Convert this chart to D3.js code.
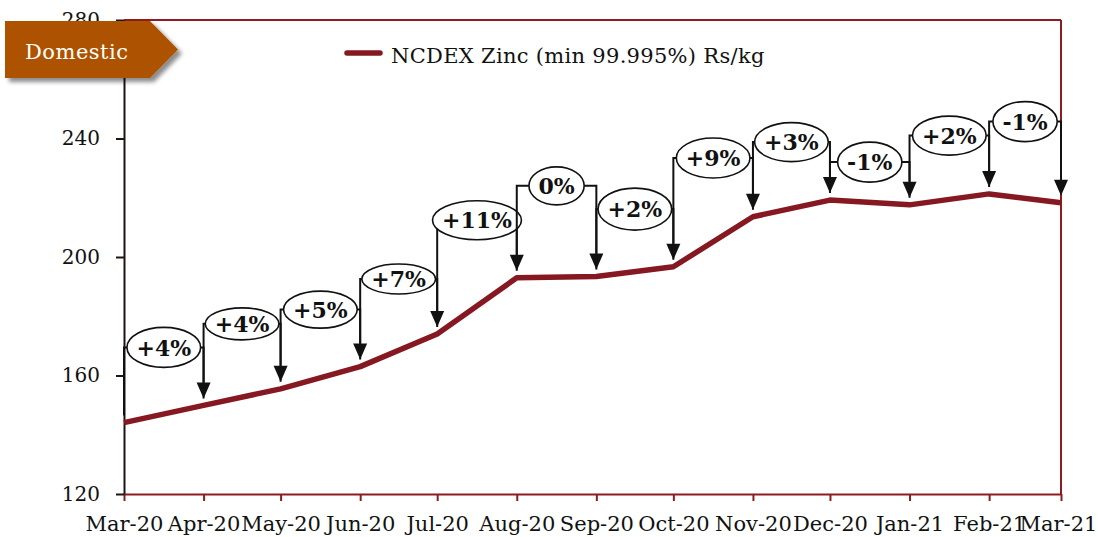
<!DOCTYPE html>
<html>
<head>
<meta charset="utf-8">
<script src="https://cdn.jsdelivr.net/npm/d3@7"></script>
<style>
  html, body { margin: 0; padding: 0; background: #ffffff; }
  svg { display: block; font-family: "DejaVu Serif", "Liberation Serif", serif; }
</style>
</head>
<body>
<svg id="chart" width="1098" height="537"></svg>
<script>
// ---- data ----
const months = ["2020-03-01", "2020-04-01", "2020-05-01", "2020-06-01", "2020-07-01",
                "2020-08-01", "2020-09-01", "2020-10-01", "2020-11-01", "2020-12-01",
                "2021-01-01", "2021-02-01", "2021-03-01"];
const monthLabels = ["Mar-20", "Apr-20", "May-20", "Jun-20", "Jul-20", "Aug-20", "Sep-20",
                     "Oct-20", "Nov-20", "Dec-20", "Jan-21", "Feb-21", "Mar-21"];
const zincPrice = [144.1, 149.9, 155.5, 163.0, 174.0, 193.0, 193.4, 196.7, 213.6, 219.2, 217.6, 221.3, 218.3];
const changeLabels = ["+4%", "+4%", "+5%", "+7%", "+11%", "0%", "+2%", "+9%", "+3%", "-1%", "+2%", "-1%"];
const yTicks = [120, 160, 200, 240, 280];
const seriesName = "NCDEX Zinc (min 99.995%) Rs/kg";
const badgeText = "Domestic";

// ---- layout ----
const plot = { left: 124, right: 1061, top: 20, bottom: 494 };
const calloutLift = [58, 65, 57, 55, 57.5, 90.7, 57.7, 58.7, 58, 38, 58.3, 72.3]; // px above the higher end point
const calloutRy   = [20, 16, 18.5, 15, 19.5, 19, 21, 20, 19.5, 20, 19.5, 20];
const lineColor = "#861821";
const frameColor = "#8e1b1f";

const svg = d3.select("#chart");
const parse = d3.timeParse("%Y-%m-%d");
const dates = months.map(parse);

const x = d3.scaleTime()
  .domain([dates[0], dates[dates.length - 1]])
  .range([plot.left, plot.right]);
const y = d3.scaleLinear()
  .domain([120, 280])
  .range([plot.bottom, plot.top]);

// frame: top and right edges
svg.append("line")
  .attr("x1", plot.left).attr("x2", plot.right)
  .attr("y1", y(280)).attr("y2", y(280))
  .attr("stroke", frameColor).attr("stroke-width", 2);
svg.append("line")
  .attr("x1", plot.right).attr("x2", plot.right)
  .attr("y1", y(280)).attr("y2", y(120))
  .attr("stroke", frameColor).attr("stroke-width", 2);

// bottom axis
const xAxis = svg.append("g")
  .attr("transform", `translate(0,${plot.bottom})`)
  .call(d3.axisBottom(x)
    .tickValues(dates)
    .tickFormat((d, i) => monthLabels[i])
    .tickSize(7)
    .tickSizeOuter(0)
    .tickPadding(15));
xAxis.select(".domain").attr("stroke", frameColor).attr("stroke-width", 2);
xAxis.selectAll(".tick line").attr("stroke", frameColor).attr("stroke-width", 2);
xAxis.selectAll(".tick text")
  .attr("fill", "#111")
  .style("font-size", "21px")
  .style("font-family", "\"DejaVu Serif\", serif")
  .attr("dx", (d, i) => i === monthLabels.length - 1 ? -3 : 0);

// left axis
const yAxis = svg.append("g")
  .attr("transform", `translate(${plot.left},0)`)
  .call(d3.axisLeft(y)
    .tickValues(yTicks)
    .tickSize(8)
    .tickSizeOuter(0)
    .tickPadding(16));
yAxis.select(".domain").attr("stroke", "#1f1414").attr("stroke-width", 2);
yAxis.selectAll(".tick line").attr("stroke", "#1f1414").attr("stroke-width", 2);
yAxis.selectAll(".tick text")
  .attr("fill", "#111")
  .style("font-size", "20px")
  .style("font-family", "\"DejaVu Serif\", serif");

// price line
const line = d3.line()
  .x((d, i) => x(dates[i]))
  .y(d => y(d));
svg.append("path")
  .datum(zincPrice)
  .attr("d", line)
  .attr("fill", "none")
  .attr("stroke", lineColor)
  .attr("stroke-width", 5.5)
  .attr("stroke-linejoin", "round");

// month-on-month change callouts
const gap = 7, headLen = 16, headHalf = 7;
const callouts = svg.append("g");
const ellipseLayer = callouts.append("g");
const linkLayer = callouts.append("g");
const textLayer = callouts.append("g");

changeLabels.forEach((label, i) => {
  const x0 = x(dates[i]), x1 = x(dates[i + 1]);
  const y0 = y(zincPrice[i]), y1 = y(zincPrice[i + 1]);
  const tip0 = y0 - gap, tip1 = y1 - gap;
  const cx = (x0 + x1) / 2;
  const cy = Math.min(y0, y1) - calloutLift[i];
  const ry = calloutRy[i];

  const txt = textLayer.append("text")
    .attr("x", cx).attr("y", cy)
    .attr("text-anchor", "middle")
    .attr("dy", "0.37em")
    .attr("fill", "#111")
    .style("font-size", "22px")
    .style("font-weight", "bold")
    .text(label);
  const w = txt.node().getComputedTextLength();
  const rx = w / 2 + 9.5;

  ellipseLayer.append("ellipse")
    .attr("cx", cx).attr("cy", cy)
    .attr("rx", rx).attr("ry", ry)
    .attr("fill", "#fff")
    .attr("stroke", "#111")
    .attr("stroke-width", 1.6);

  const lowerEdge = xv => cy + ry * Math.sqrt(Math.max(0, 1 - Math.pow((xv - cx) / rx, 2)));

  // start connector: rises from the earlier month to the label
  let startPath;
  if (x0 <= cx - rx) {
    startPath = `M${x0},${tip0}V${cy}H${cx - rx}`;
  } else {
    startPath = `M${x0},${tip0}V${lowerEdge(x0)}`;
  }
  // end connector: leaves the label and drops onto the later month
  let endPath;
  if (x1 >= cx + rx) {
    endPath = `M${cx + rx},${cy}H${x1}V${tip1 - headLen}`;
  } else {
    endPath = `M${x1},${lowerEdge(x1)}V${tip1 - headLen}`;
  }
  linkLayer.append("path").attr("d", startPath)
    .attr("fill", "none").attr("stroke", "#111").attr("stroke-width", 2);
  linkLayer.append("path").attr("d", endPath)
    .attr("fill", "none").attr("stroke", "#111").attr("stroke-width", 2);
  linkLayer.append("path")
    .attr("d", `M${x1},${tip1}L${x1 - headHalf},${tip1 - headLen}L${x1 + headHalf},${tip1 - headLen}Z`)
    .attr("fill", "#111");
});
textLayer.raise();

// legend
const legend = svg.append("g");
legend.append("line")
  .attr("x1", 347).attr("x2", 380)
  .attr("y1", 53).attr("y2", 53)
  .attr("stroke", lineColor)
  .attr("stroke-width", 5.5)
  .attr("stroke-linecap", "round");
legend.append("text")
  .attr("x", 391).attr("y", 63)
  .attr("fill", "#111")
  .style("font-size", "21px")
  .style("letter-spacing", "0.3px")
  .text(seriesName);

// section badge
const defs = svg.append("defs");
const shadow = defs.append("filter").attr("id", "badgeShadow")
  .attr("x", "-10%").attr("y", "-20%").attr("width", "130%").attr("height", "160%");
shadow.append("feDropShadow")
  .attr("dx", 4).attr("dy", 4)
  .attr("stdDeviation", 2.2)
  .attr("flood-color", "#000")
  .attr("flood-opacity", 0.45);

const badge = svg.append("g");
badge.append("path")
  .attr("d", "M5,21H150L178,49.5L150,78H5Z")
  .attr("fill", "#ad5200")
  .attr("filter", "url(#badgeShadow)");
badge.append("text")
  .attr("x", 25).attr("y", 59)
  .attr("fill", "#fff")
  .style("font-size", "21px")
  .style("letter-spacing", "0.5px")
  .text(badgeText);
</script>
</body>
</html>
